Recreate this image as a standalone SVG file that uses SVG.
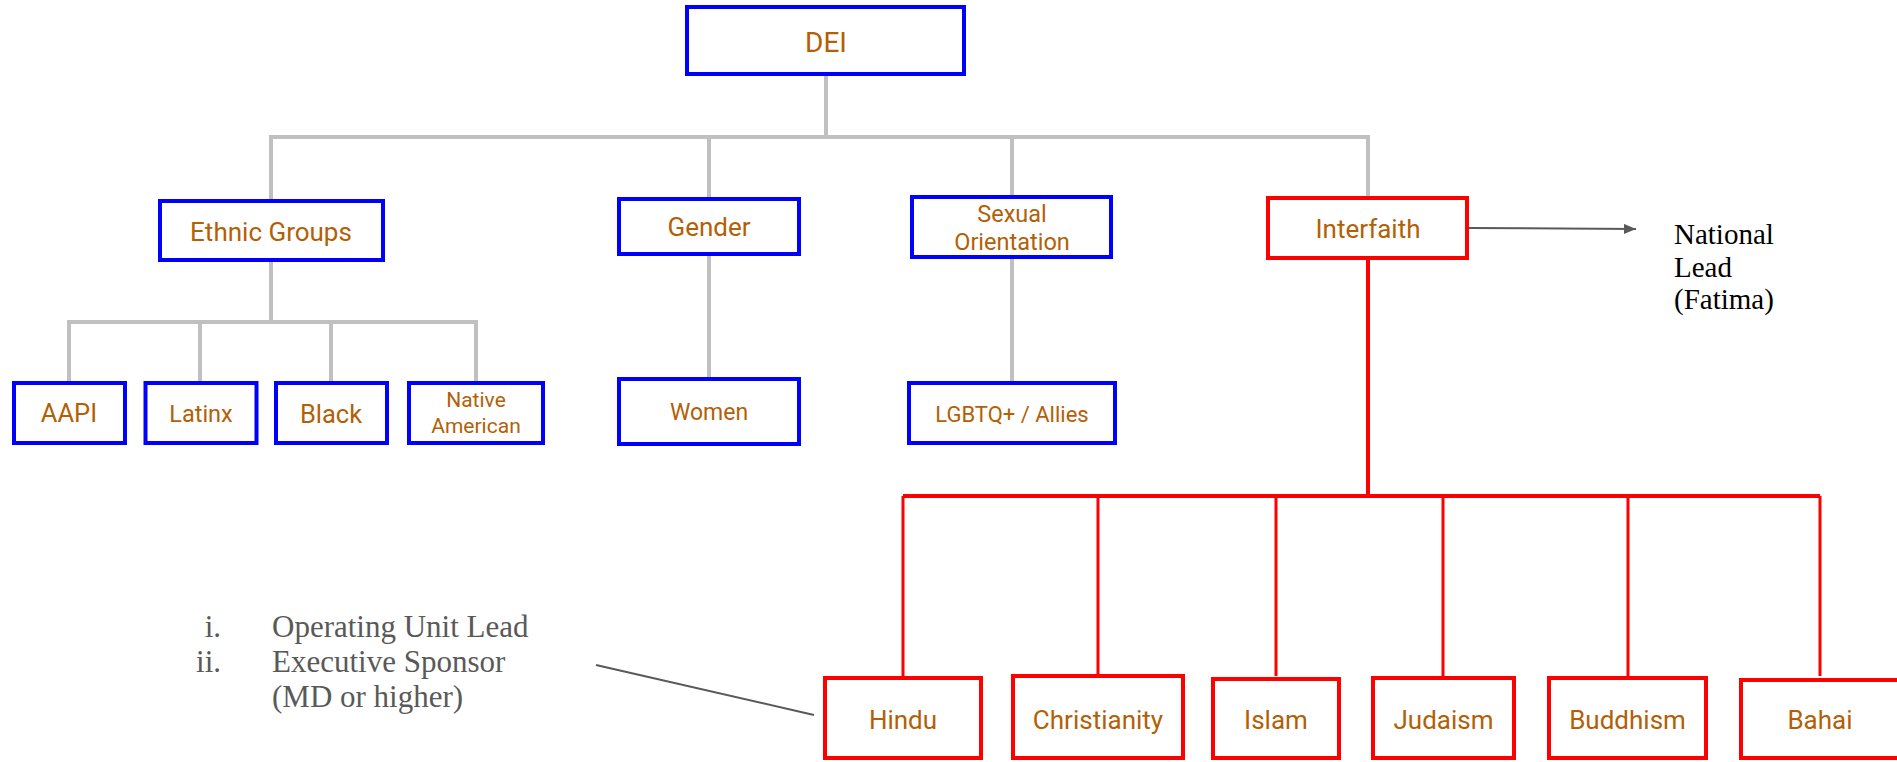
<svg xmlns="http://www.w3.org/2000/svg" width="1897" height="762" viewBox="0 0 1897 762">
<defs>
<style>
.b{fill:#fff;stroke:#0000ff;stroke-width:4}
.r{fill:#fff;stroke:#ff0000;stroke-width:4}
.t{font-family:Roboto,"Liberation Sans",sans-serif;fill:#b45f06;text-anchor:middle}
.g{fill:none;stroke:#c0c0c0;stroke-width:4}
.rl{fill:none;stroke:#ff0000;stroke-width:3}
.s{font-family:"Liberation Serif","DejaVu Serif",serif}
</style>
<marker id="ah" viewBox="0 0 12 10" refX="12" refY="5" markerWidth="12" markerHeight="10" markerUnits="userSpaceOnUse" orient="auto">
<path d="M0,0 L12,5 L0,10 z" fill="#595959"/>
</marker>
</defs>
<rect width="1897" height="762" fill="#fff"/>
<g id="connectors">
<path class="g" d="M826,75 V137 M271,200 V137 H1368 V196 M709,137 V197 M1012,137 V195"/>
<path class="g" d="M271,261 V322 M69,381 V322 H476 V381 M200,322 V381 M331,322 V381"/>
<path class="g" d="M709,256 V377 M1012,259 V381"/>
<path class="rl" style="stroke-width:4" d="M1368,260 V496 M903,496 H1820"/>
<path class="rl" d="M903,496 V676 M1098,496 V676 M1276,496 V676 M1443,496 V676 M1628,496 V676 M1820,496 V676"/>
<line x1="1469" y1="228" x2="1636" y2="229" stroke="#595959" stroke-width="2" marker-end="url(#ah)"/>
<line x1="596" y1="665" x2="814" y2="715" stroke="#595959" stroke-width="2"/>
</g>
<g id="dei"><rect class="b" x="687" y="7" width="277" height="67"/><text class="t" x="826" y="52" font-size="28">DEI</text></g>
<g id="ethnic"><rect class="b" x="160" y="201" width="223" height="59"/><text class="t" x="271" y="241" font-size="26">Ethnic Groups</text></g>
<g id="gender"><rect class="b" x="619" y="199" width="180" height="55"/><text class="t" x="709" y="236" font-size="26">Gender</text></g>
<g id="sexual"><rect class="b" x="912" y="197" width="199" height="60"/><text class="t" x="1012" y="222" font-size="23.5">Sexual</text><text class="t" x="1012" y="250" font-size="23.5">Orientation</text></g>
<g id="interfaith"><rect class="r" x="1268" y="198" width="199" height="60"/><text class="t" x="1368" y="238" font-size="26">Interfaith</text></g>
<g id="aapi"><rect class="b" x="14" y="383" width="111" height="60"/><text class="t" x="69" y="422" font-size="25.5">AAPI</text></g>
<g id="latinx"><rect class="b" x="145.5" y="383" width="111" height="60"/><text class="t" x="201" y="422" font-size="23.5">Latinx</text></g>
<g id="black"><rect class="b" x="276" y="383" width="111" height="60"/><text class="t" x="331" y="423" font-size="25.5">Black</text></g>
<g id="native"><rect class="b" x="409" y="383" width="134" height="60"/><text class="t" x="476" y="407" font-size="21">Native</text><text class="t" x="476" y="433" font-size="21">American</text></g>
<g id="women"><rect class="b" x="619" y="379" width="180" height="65"/><text class="t" x="709" y="420" font-size="23">Women</text></g>
<g id="lgbtq"><rect class="b" x="909" y="383" width="206" height="60"/><text class="t" x="1012" y="422" font-size="22">LGBTQ+ / Allies</text></g>
<g id="hindu"><rect class="r" x="825" y="678" width="156" height="80"/><text class="t" x="903" y="729" font-size="26">Hindu</text></g>
<g id="christianity"><rect class="r" x="1013" y="676" width="170" height="82"/><text class="t" x="1098" y="729" font-size="26">Christianity</text></g>
<g id="islam"><rect class="r" x="1213" y="679" width="126" height="79"/><text class="t" x="1276" y="729" font-size="26">Islam</text></g>
<g id="judaism"><rect class="r" x="1373" y="678" width="141" height="80"/><text class="t" x="1443.5" y="729" font-size="26">Judaism</text></g>
<g id="buddhism"><rect class="r" x="1549" y="678" width="157" height="80"/><text class="t" x="1627.5" y="729" font-size="26">Buddhism</text></g>
<g id="bahai"><rect class="r" x="1741" y="680" width="158" height="78"/><text class="t" x="1820" y="729" font-size="26">Bahai</text></g>
<g id="national-lead" class="s" font-size="29" fill="#000">
<text x="1674" y="244">National</text>
<text x="1674" y="277">Lead</text>
<text x="1674" y="309">(Fatima)</text>
</g>
<g id="footnote" class="s" font-size="31" fill="#595959">
<text x="221" y="637" text-anchor="end">i.</text>
<text x="221" y="672" text-anchor="end">ii.</text>
<text x="272" y="637">Operating Unit Lead</text>
<text x="272" y="672">Executive Sponsor</text>
<text x="272" y="707">(MD or higher)</text>
</g>
</svg>
